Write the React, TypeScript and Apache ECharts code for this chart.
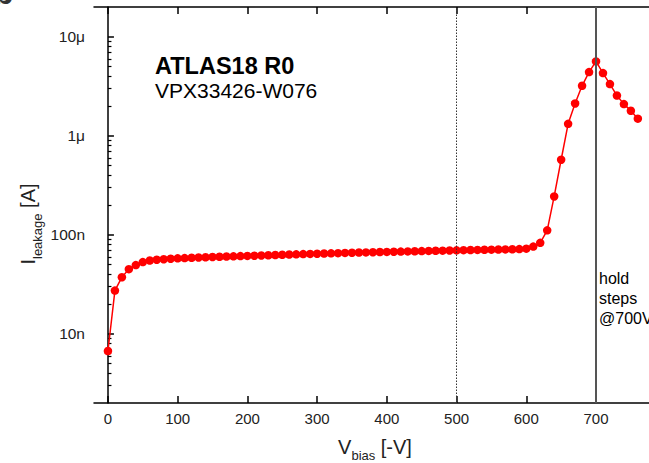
import React, { useEffect, useRef } from 'react';
import * as echarts from 'echarts';

// Ramp: bias voltage [-V] and leakage current [A]
const rampVoltages = [
  0, 10, 20, 30, 40, 50, 60, 70, 80, 90,
  100, 110, 120, 130, 140, 150, 160, 170, 180, 190,
  200, 210, 220, 230, 240, 250, 260, 270, 280, 290,
  300, 310, 320, 330, 340, 350, 360, 370, 380, 390,
  400, 410, 420, 430, 440, 450, 460, 470, 480, 490,
  500, 510, 520, 530, 540, 550, 560, 570, 580, 590,
  600, 610, 620, 630, 640, 650, 660, 670, 680, 690,
  700,
];
const rampCurrents = [
  6.7e-9, 2.73e-8, 3.73e-8, 4.5e-8, 4.94e-8, 5.3e-8, 5.5e-8, 5.6e-8, 5.67e-8, 5.73e-8,
  5.78e-8, 5.82e-8, 5.86e-8, 5.9e-8, 5.93e-8, 5.97e-8, 6.0e-8, 6.03e-8, 6.06e-8, 6.09e-8,
  6.12e-8, 6.15e-8, 6.18e-8, 6.21e-8, 6.25e-8, 6.28e-8, 6.32e-8, 6.35e-8, 6.38e-8, 6.41e-8,
  6.44e-8, 6.47e-8, 6.5e-8, 6.53e-8, 6.56e-8, 6.59e-8, 6.62e-8, 6.64e-8, 6.67e-8, 6.7e-8,
  6.72e-8, 6.75e-8, 6.77e-8, 6.8e-8, 6.82e-8, 6.85e-8, 6.87e-8, 6.9e-8, 6.92e-8, 6.95e-8,
  6.97e-8, 7.0e-8, 7.02e-8, 7.04e-8, 7.06e-8, 7.08e-8, 7.1e-8, 7.12e-8, 7.14e-8, 7.17e-8,
  7.25e-8, 7.6e-8, 8.3e-8, 1.11e-7, 2.44e-7, 5.73e-7, 1.32e-6, 2.12e-6, 3.2e-6, 4.4e-6,
  5.64e-6,
];
// Hold steps at 700 V, drawn at successive positions after 700
const holdPositions = [710, 720, 730, 740, 750, 760];
const holdCurrents = [4.3e-6, 3.33e-6, 2.55e-6, 2.09e-6, 1.79e-6, 1.49e-6];

const xTicks = [0, 100, 200, 300, 400, 500, 600, 700];
const yMajorTicks = [1e-8, 1e-7, 1e-6, 1e-5];
const yMajorLabels = ['10n', '100n', '1\u03bc', '10\u03bc'];
const yMinorTicks = [
  3e-9, 4e-9, 5e-9, 6e-9, 7e-9, 8e-9, 9e-9,
  2e-8, 3e-8, 4e-8, 5e-8, 6e-8, 7e-8, 8e-8, 9e-8,
  2e-7, 3e-7, 4e-7, 5e-7, 6e-7, 7e-7, 8e-7, 9e-7,
  2e-6, 3e-6, 4e-6, 5e-6, 6e-6, 7e-6, 8e-6, 9e-6,
];
const markerLines = [500, 700];

const FONT = '"Liberation Sans", Arial, Helvetica, sans-serif';

export default function App() {
  const ref = useRef<HTMLDivElement>(null);

  useEffect(() => {
    if (!ref.current) return;
    const chart = echarts.init(ref.current, null, { renderer: 'svg' });

    const seriesData: number[][] = [];
    rampVoltages.forEach((v, i) => seriesData.push([v, rampCurrents[i]]));
    holdPositions.forEach((v, i) => seriesData.push([v, holdCurrents[i]]));

    const labelMap: Record<string, string> = {};
    yMajorTicks.forEach((t, i) => {
      labelMap[String(Math.round(Math.log10(t)))] = yMajorLabels[i];
    });

    const option: any = {
      animation: false,
      backgroundColor: '#ffffff',
      grid: { left: 94, top: 7, right: 0, height: 396, containLabel: false },
      xAxis: [
        {
          type: 'value',
          min: -20,
          max: 776,
          position: 'bottom',
          axisLine: { show: true, lineStyle: { color: '#000', width: 1.5 } },
          axisTick: {
            show: true,
            inside: true,
            length: 7,
            customValues: xTicks,
            lineStyle: { color: '#000', width: 1.5 },
          },
          axisLabel: {
            show: true,
            customValues: xTicks,
            margin: 8,
            color: '#222',
            fontSize: 15,
            fontFamily: FONT,
          },
          splitLine: { show: false },
        },
        {
          type: 'value',
          min: -20,
          max: 776,
          position: 'top',
          axisLine: { show: true, lineStyle: { color: '#000', width: 1.5 } },
          axisTick: {
            show: true,
            inside: true,
            length: 7,
            customValues: xTicks,
            lineStyle: { color: '#000', width: 1.5 },
          },
          axisLabel: { show: false },
          splitLine: { show: false },
        },
      ],
      yAxis: [
        {
          type: 'log',
          logBase: 10,
          min: 2e-9,
          max: 2e-5,
          position: 'left',
          axisLine: { show: true, lineStyle: { color: '#000', width: 1.5 } },
          axisTick: {
            show: true,
            inside: true,
            length: 6,
            customValues: yMajorTicks,
            lineStyle: { color: '#000', width: 1.5 },
          },
          axisLabel: {
            show: true,
            customValues: yMajorTicks,
            margin: 9,
            color: '#222',
            fontSize: 15.5,
            fontFamily: FONT,
            formatter: (val: number) => labelMap[String(Math.round(Math.log10(val)))] || '',
          },
          splitLine: { show: false },
          minorTick: { show: false },
        },
        {
          type: 'log',
          logBase: 10,
          min: 2e-9,
          max: 2e-5,
          position: 'left',
          axisLine: { show: false },
          axisTick: {
            show: true,
            inside: true,
            length: 3.5,
            customValues: yMinorTicks,
            lineStyle: { color: '#000', width: 1.2 },
          },
          axisLabel: { show: false },
          splitLine: { show: false },
        },
      ],
      series: [
        {
          type: 'line',
          xAxisIndex: 0,
          yAxisIndex: 0,
          data: seriesData,
          symbol: 'circle',
          symbolSize: 8.5,
          itemStyle: { color: '#ff0000' },
          lineStyle: { color: '#ff0000', width: 1.5 },
          markLine: {
            silent: true,
            symbol: 'none',
            label: { show: false },
            data: [
              { xAxis: markerLines[0], lineStyle: { type: [1.5, 1.5], color: '#333', width: 1 } },
              { xAxis: markerLines[1], lineStyle: { type: 'solid', color: '#555', width: 2 } },
            ],
          },
          z: 3,
        },
      ],
      graphic: [
        {
          type: 'text',
          x: -7,
          y: 9,
          style: {
            text: 'b',
            fontSize: 34,
            fontWeight: 'bold',
            fontFamily: FONT,
            fill: '#333',
            verticalAlign: 'bottom',
          },
        },
        {
          type: 'text',
          x: 155,
          y: 65.5,
          style: {
            text: 'ATLAS18 R0',
            fontSize: 23.5,
            fontWeight: 'bold',
            fontFamily: FONT,
            fill: '#000',
            verticalAlign: 'middle',
          },
        },
        {
          type: 'text',
          x: 155,
          y: 90,
          style: {
            text: 'VPX33426-W076',
            fontSize: 21,
            fontFamily: FONT,
            fill: '#000',
            verticalAlign: 'middle',
          },
        },
        {
          type: 'text',
          x: 599,
          y: 278.5,
          style: { text: 'hold', fontSize: 16, fontFamily: FONT, fill: '#000', verticalAlign: 'middle' },
        },
        {
          type: 'text',
          x: 599,
          y: 298.5,
          style: { text: 'steps', fontSize: 16, fontFamily: FONT, fill: '#000', verticalAlign: 'middle' },
        },
        {
          type: 'text',
          x: 599,
          y: 318.5,
          style: { text: '@700V', fontSize: 16, fontFamily: FONT, fill: '#000', verticalAlign: 'middle' },
        },
        {
          type: 'text',
          x: 375,
          y: 445,
          style: {
            text: '{m|V}{s|bias}{m| [-V]}',
            align: 'center',
            verticalAlign: 'middle',
            fill: '#222',
            rich: {
              m: { fontSize: 20, fontFamily: FONT, fill: '#222', lineHeight: 24, verticalAlign: 'bottom' },
              s: { fontSize: 13, fontFamily: FONT, fill: '#222', lineHeight: 24, verticalAlign: 'bottom', padding: [0, 0, -5, 0] },
            },
          },
        },
        {
          type: 'text',
          x: 26,
          y: 224,
          rotation: Math.PI / 2,
          style: {
            text: '{m|I}{s|leakage}{m| [A]}',
            align: 'center',
            verticalAlign: 'middle',
            fill: '#222',
            rich: {
              m: { fontSize: 20, fontFamily: FONT, fill: '#222', lineHeight: 24, verticalAlign: 'bottom' },
              s: { fontSize: 13, fontFamily: FONT, fill: '#222', lineHeight: 24, verticalAlign: 'bottom', padding: [0, 0, -6, 0] },
            },
          },
        },
      ],
    };

    chart.setOption(option);
    return () => {
      chart.dispose();
    };
  }, []);

  return (
    <div
      ref={ref}
      style={{ position: 'absolute', left: 0, top: 0, width: 649, height: 463, background: '#fff' }}
    />
  );
}
